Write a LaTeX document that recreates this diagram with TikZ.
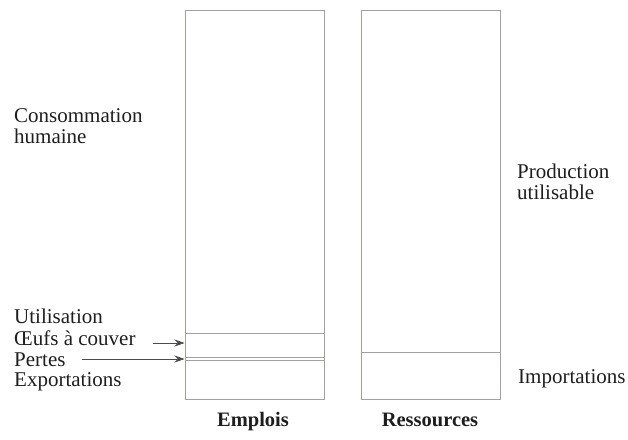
\documentclass[tikz,border=0pt]{standalone}
\usepackage{fontspec}
\setmainfont{Liberation Serif}
\usetikzlibrary{arrows.meta}
\definecolor{boxgray}{RGB}{165,160,160}
\definecolor{txt}{RGB}{30,30,30}
\definecolor{arr}{RGB}{75,75,75}
\begin{document}
\begin{tikzpicture}[x=1pt,y=-1pt,
  lbl/.style={anchor=base west,inner sep=0pt,text=txt,font=\fontsize{21}{21}\selectfont},
  ttl/.style={anchor=base,inner sep=0pt,text=txt,font=\fontsize{20.5}{21}\selectfont\bfseries},
  col/.style={draw=boxgray,line width=1pt,inner sep=0pt,minimum width=139pt,minimum height=388.5pt},
  sep/.style={draw=boxgray,line width=1pt},
  pt/.style={draw=arr,line width=0.8pt,-{Stealth[length=10pt,width=7pt,fill=arr]}}]
\useasboundingbox (0,0) rectangle (628,439);
% columns
\node[col] (emp) at (254.5,204.75) {};
\node[col] (res) at (430.5,204.75) {};
% dividers
\draw[sep] (emp.west |- 0,333.5) -- (emp.east |- 0,333.5);
\draw[sep] (emp.west |- 0,357) -- (emp.east |- 0,357);
\draw[sep] (emp.west |- 0,360.5) -- (emp.east |- 0,360.5);
\draw[sep] (res.west |- 0,352.5) -- (res.east |- 0,352.5);
% left labels
\node[lbl] (cons1) at (14,122) {Consommation};
\node[lbl] (cons2) at (14,143) {humaine};
\node[lbl] (util) at (14,323) {Utilisation};
\node[lbl] (oeufs) at (14,345) {Œufs à couver};
\node[lbl] (pert) at (14,366) {Pertes};
\node[lbl] (expo) at (14,386) {Exportations};
% right labels
\node[lbl] (prod1) at (517,178) {Production};
\node[lbl] (prod2) at (517,199) {utilisable};
\node[lbl] (impo) at (518,383) {Importations};
% titles
\node[ttl] (templ) at (253,426) {Emplois};
\node[ttl] (tres) at (430,426) {Ressources};
% arrows
\coordinate (a1) at (153,343);
\coordinate (a2) at (82,359);
\draw[pt] (a1) -- (emp.west |- a1);
\draw[pt] (a2) -- (emp.west |- a2);
\end{tikzpicture}
\end{document}
